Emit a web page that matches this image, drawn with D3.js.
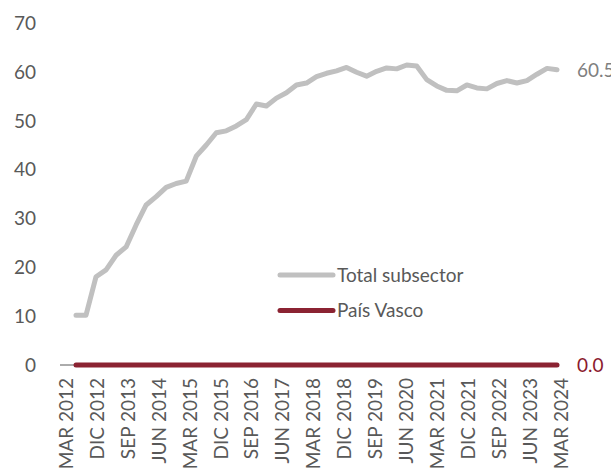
<!DOCTYPE html>
<html>
<head>
<meta charset="utf-8">
<script src="https://cdn.jsdelivr.net/npm/d3@7"></script>
<style>
  html, body { margin: 0; padding: 0; background: #fff; }
  svg { display: block; font-family: "Lato", "Open Sans", sans-serif; }
</style>
</head>
<body>
<svg id="chart" width="611" height="471"></svg>
<script>
// quarters MAR 2012 .. MAR 2024
const years = [2012, 2013, 2014, 2015, 2016, 2017, 2018, 2019, 2020, 2021, 2022, 2023, 2024];
const months = ["MAR", "JUN", "SEP", "DIC"];
const categories = [];
years.forEach(y => months.forEach(m => categories.push(m + " " + y)));
categories.splice(categories.indexOf("MAR 2024") + 1);

const tickLabels = ["MAR 2012", "DIC 2012", "SEP 2013", "JUN 2014", "MAR 2015", "DIC 2015",
  "SEP 2016", "JUN 2017", "MAR 2018", "DIC 2018", "SEP 2019", "JUN 2020", "MAR 2021",
  "DIC 2021", "SEP 2022", "JUN 2023", "MAR 2024"];

const totalSubsector = [10.2, 10.2, 18.1, 19.5, 22.5, 24.2, 28.7, 32.8, 34.5, 36.4, 37.2, 37.7,
  42.8, 45.1, 47.6, 48.0, 49.0, 50.3, 53.5, 53.1, 54.7, 55.8, 57.4, 57.8,
  59.1, 59.8, 60.3, 61.0, 60.0, 59.2, 60.2, 60.9, 60.7, 61.5, 61.3, 58.5,
  57.2, 56.3, 56.2, 57.4, 56.8, 56.6, 57.7, 58.3, 57.8, 58.3, 59.6, 60.8, 60.5];
const paisVasco = [0, 0, 0, 0, 0, 0, 0, 0, 0, 0, 0, 0, 0, 0, 0, 0, 0, 0, 0, 0, 0, 0, 0, 0, 0,
  0, 0, 0, 0, 0, 0, 0, 0, 0, 0, 0, 0, 0, 0, 0, 0, 0, 0, 0, 0, 0, 0, 0, 0];
const yTicks = [0, 10, 20, 30, 40, 50, 60, 70];

const series = [
  { name: "Total subsector", values: totalSubsector, color: "#c0c0c0", labelColor: "#7f7f7f" },
  { name: "País Vasco", values: paisVasco, color: "#8b2332", labelColor: "#8b1a2e" }
];

const svg = d3.select("#chart");

const x = d3.scalePoint().domain(categories).range([76, 557]);
const xLab = d3.scalePoint().domain(tickLabels).range([66, 561]);
const y = d3.scaleLinear().domain([0, 70]).range([365, 23.5]);

// y axis labels (no axis line)
const yAxis = svg.append("g")
  .attr("transform", "translate(36,0)")
  .call(d3.axisLeft(y).tickValues(yTicks).tickSize(0).tickPadding(0).tickFormat(d3.format("d")));
yAxis.select(".domain").remove();
yAxis.selectAll("text")
  .attr("fill", "#595959")
  .style("font-size", "19px")
  .style("font-family", "Lato, sans-serif");

// category axis line
svg.append("line")
  .attr("x1", 60).attr("x2", x.range()[1] + 2)
  .attr("y1", y(0)).attr("y2", y(0))
  .attr("stroke", "#595959").attr("stroke-width", 1);

// category labels, rotated
svg.append("g")
  .selectAll("text")
  .data(tickLabels)
  .join("text")
  .attr("transform", d => `translate(${xLab(d)},378) rotate(-90)`)
  .attr("text-anchor", "end")
  .attr("dy", "0.36em")
  .attr("fill", "#595959")
  .style("font-size", "19px")
  .text(d => d);

const line = d3.line()
  .x((d, i) => x(categories[i]))
  .y(d => y(d));

series.forEach(s => {
  svg.append("path")
    .datum(s.values)
    .attr("fill", "none")
    .attr("stroke", s.color)
    .attr("stroke-width", 5)
    .attr("stroke-linejoin", "round")
    .attr("stroke-linecap", "round")
    .attr("d", line);

  const last = s.values[s.values.length - 1];
  svg.append("text")
    .attr("x", x(categories[categories.length - 1]) + 20)
    .attr("y", y(last))
    .attr("dy", "0.36em")
    .attr("fill", s.labelColor)
    .style("font-size", "19px")
    .text(d3.format(".1f")(last));
});

// legend
const legend = svg.append("g")
  .selectAll("g")
  .data(series)
  .join("g")
  .attr("transform", (d, i) => `translate(280,${275 + i * 35.5})`);
legend.append("line")
  .attr("x1", 0).attr("x2", 53)
  .attr("stroke", d => d.color)
  .attr("stroke-width", 5)
  .attr("stroke-linecap", "round");
legend.append("text")
  .attr("x", 57)
  .attr("dy", "0.36em")
  .attr("fill", "#595959")
  .style("font-size", "19px")
  .text(d => d.name);
</script>
</body>
</html>
